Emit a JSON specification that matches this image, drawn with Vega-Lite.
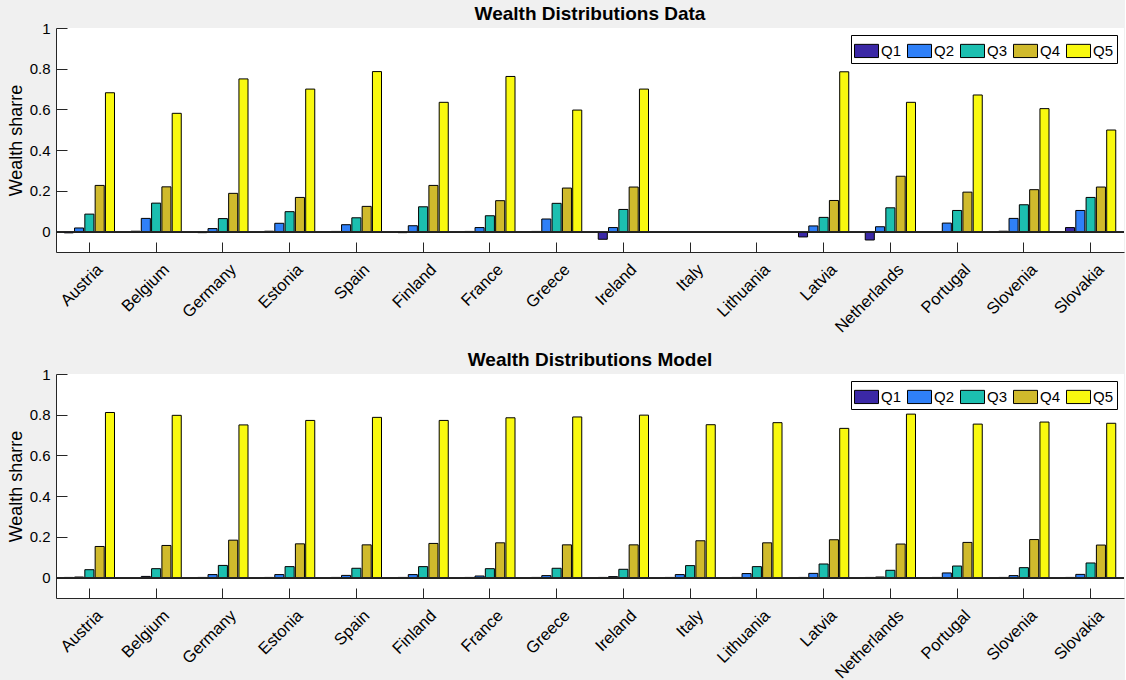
{
  "$schema": "https://vega.github.io/schema/vega-lite/v6.json",
  "background": "#f0f0f0",
  "padding": {"left": 7, "top": 5, "right": 0, "bottom": 0},
  "spacing": 15,
  "config": {
    "font": "Liberation Sans",
    "view": {"fill": "white", "stroke": null},
    "axis": {"domainColor": "#262626", "tickColor": "#262626", "labelColor": "#000000", "labelFontSize": 15, "titleFontSize": 18, "titleFontWeight": "normal", "titleColor": "#000000", "grid": false},
    "title": {"fontSize": 19, "fontWeight": "bold", "color": "#000000", "offset": -3},
    "legend": {"orient": "top-right", "direction": "horizontal", "title": null, "symbolType": "M-1,-0.55H1V0.55H-1Z", "symbolSize": 576, "symbolStrokeColor": "#000000", "symbolStrokeWidth": 1, "symbolOpacity": 1, "labelFontSize": 15, "labelColor": "#000000", "labelOffset": 2, "columnPadding": 3, "padding": 3, "strokeColor": "#000000", "fillColor": "#ffffff", "offset": 7}
  },
  "datasets": {
    "data": [
      {"country": "Austria", "q": "Q1", "share": -0.006}, {"country": "Austria", "q": "Q2", "share": 0.018}, {"country": "Austria", "q": "Q3", "share": 0.086}, {"country": "Austria", "q": "Q4", "share": 0.227}, {"country": "Austria", "q": "Q5", "share": 0.682},
      {"country": "Belgium", "q": "Q1", "share": 0.002}, {"country": "Belgium", "q": "Q2", "share": 0.065}, {"country": "Belgium", "q": "Q3", "share": 0.14}, {"country": "Belgium", "q": "Q4", "share": 0.22}, {"country": "Belgium", "q": "Q5", "share": 0.581},
      {"country": "Germany", "q": "Q1", "share": -0.005}, {"country": "Germany", "q": "Q2", "share": 0.015}, {"country": "Germany", "q": "Q3", "share": 0.064}, {"country": "Germany", "q": "Q4", "share": 0.188}, {"country": "Germany", "q": "Q5", "share": 0.75},
      {"country": "Estonia", "q": "Q1", "share": 0.002}, {"country": "Estonia", "q": "Q2", "share": 0.041}, {"country": "Estonia", "q": "Q3", "share": 0.098}, {"country": "Estonia", "q": "Q4", "share": 0.168}, {"country": "Estonia", "q": "Q5", "share": 0.7},
      {"country": "Spain", "q": "Q1", "share": 0.001}, {"country": "Spain", "q": "Q2", "share": 0.034}, {"country": "Spain", "q": "Q3", "share": 0.068}, {"country": "Spain", "q": "Q4", "share": 0.124}, {"country": "Spain", "q": "Q5", "share": 0.786},
      {"country": "Finland", "q": "Q1", "share": -0.005}, {"country": "Finland", "q": "Q2", "share": 0.029}, {"country": "Finland", "q": "Q3", "share": 0.122}, {"country": "Finland", "q": "Q4", "share": 0.227}, {"country": "Finland", "q": "Q5", "share": 0.635},
      {"country": "France", "q": "Q1", "share": 0.001}, {"country": "France", "q": "Q2", "share": 0.02}, {"country": "France", "q": "Q3", "share": 0.078}, {"country": "France", "q": "Q4", "share": 0.152}, {"country": "France", "q": "Q5", "share": 0.762},
      {"country": "Greece", "q": "Q1", "share": 0.001}, {"country": "Greece", "q": "Q2", "share": 0.062}, {"country": "Greece", "q": "Q3", "share": 0.139}, {"country": "Greece", "q": "Q4", "share": 0.214}, {"country": "Greece", "q": "Q5", "share": 0.597},
      {"country": "Ireland", "q": "Q1", "share": -0.0375}, {"country": "Ireland", "q": "Q2", "share": 0.02}, {"country": "Ireland", "q": "Q3", "share": 0.109}, {"country": "Ireland", "q": "Q4", "share": 0.219}, {"country": "Ireland", "q": "Q5", "share": 0.7},
      {"country": "Latvia", "q": "Q1", "share": -0.026}, {"country": "Latvia", "q": "Q2", "share": 0.028}, {"country": "Latvia", "q": "Q3", "share": 0.07}, {"country": "Latvia", "q": "Q4", "share": 0.153}, {"country": "Latvia", "q": "Q5", "share": 0.785},
      {"country": "Netherlands", "q": "Q1", "share": -0.041}, {"country": "Netherlands", "q": "Q2", "share": 0.024}, {"country": "Netherlands", "q": "Q3", "share": 0.117}, {"country": "Netherlands", "q": "Q4", "share": 0.272}, {"country": "Netherlands", "q": "Q5", "share": 0.635},
      {"country": "Portugal", "q": "Q1", "share": -0.003}, {"country": "Portugal", "q": "Q2", "share": 0.042}, {"country": "Portugal", "q": "Q3", "share": 0.104}, {"country": "Portugal", "q": "Q4", "share": 0.194}, {"country": "Portugal", "q": "Q5", "share": 0.671},
      {"country": "Slovenia", "q": "Q1", "share": 0.002}, {"country": "Slovenia", "q": "Q2", "share": 0.065}, {"country": "Slovenia", "q": "Q3", "share": 0.132}, {"country": "Slovenia", "q": "Q4", "share": 0.206}, {"country": "Slovenia", "q": "Q5", "share": 0.604},
      {"country": "Slovakia", "q": "Q1", "share": 0.02}, {"country": "Slovakia", "q": "Q2", "share": 0.104}, {"country": "Slovakia", "q": "Q3", "share": 0.168}, {"country": "Slovakia", "q": "Q4", "share": 0.219}, {"country": "Slovakia", "q": "Q5", "share": 0.499}
    ],
    "model": [
      {"country": "Austria", "q": "Q1", "share": 0.001}, {"country": "Austria", "q": "Q2", "share": 0.003}, {"country": "Austria", "q": "Q3", "share": 0.039}, {"country": "Austria", "q": "Q4", "share": 0.153}, {"country": "Austria", "q": "Q5", "share": 0.811},
      {"country": "Belgium", "q": "Q1", "share": 0.0005}, {"country": "Belgium", "q": "Q2", "share": 0.006}, {"country": "Belgium", "q": "Q3", "share": 0.044}, {"country": "Belgium", "q": "Q4", "share": 0.158}, {"country": "Belgium", "q": "Q5", "share": 0.797},
      {"country": "Germany", "q": "Q1", "share": 0.001}, {"country": "Germany", "q": "Q2", "share": 0.015}, {"country": "Germany", "q": "Q3", "share": 0.06}, {"country": "Germany", "q": "Q4", "share": 0.184}, {"country": "Germany", "q": "Q5", "share": 0.75},
      {"country": "Estonia", "q": "Q1", "share": 0.001}, {"country": "Estonia", "q": "Q2", "share": 0.015}, {"country": "Estonia", "q": "Q3", "share": 0.054}, {"country": "Estonia", "q": "Q4", "share": 0.166}, {"country": "Estonia", "q": "Q5", "share": 0.772},
      {"country": "Spain", "q": "Q1", "share": 0.001}, {"country": "Spain", "q": "Q2", "share": 0.011}, {"country": "Spain", "q": "Q3", "share": 0.046}, {"country": "Spain", "q": "Q4", "share": 0.161}, {"country": "Spain", "q": "Q5", "share": 0.787},
      {"country": "Finland", "q": "Q1", "share": 0.001}, {"country": "Finland", "q": "Q2", "share": 0.015}, {"country": "Finland", "q": "Q3", "share": 0.054}, {"country": "Finland", "q": "Q4", "share": 0.168}, {"country": "Finland", "q": "Q5", "share": 0.772},
      {"country": "France", "q": "Q1", "share": 0.001}, {"country": "France", "q": "Q2", "share": 0.008}, {"country": "France", "q": "Q3", "share": 0.044}, {"country": "France", "q": "Q4", "share": 0.171}, {"country": "France", "q": "Q5", "share": 0.785},
      {"country": "Greece", "q": "Q1", "share": 0.001}, {"country": "Greece", "q": "Q2", "share": 0.01}, {"country": "Greece", "q": "Q3", "share": 0.046}, {"country": "Greece", "q": "Q4", "share": 0.161}, {"country": "Greece", "q": "Q5", "share": 0.789},
      {"country": "Ireland", "q": "Q1", "share": 0.001}, {"country": "Ireland", "q": "Q2", "share": 0.005}, {"country": "Ireland", "q": "Q3", "share": 0.041}, {"country": "Ireland", "q": "Q4", "share": 0.161}, {"country": "Ireland", "q": "Q5", "share": 0.798},
      {"country": "Italy", "q": "Q1", "share": 0.001}, {"country": "Italy", "q": "Q2", "share": 0.015}, {"country": "Italy", "q": "Q3", "share": 0.059}, {"country": "Italy", "q": "Q4", "share": 0.181}, {"country": "Italy", "q": "Q5", "share": 0.751},
      {"country": "Lithuania", "q": "Q1", "share": 0.001}, {"country": "Lithuania", "q": "Q2", "share": 0.02}, {"country": "Lithuania", "q": "Q3", "share": 0.054}, {"country": "Lithuania", "q": "Q4", "share": 0.171}, {"country": "Lithuania", "q": "Q5", "share": 0.761},
      {"country": "Latvia", "q": "Q1", "share": 0.001}, {"country": "Latvia", "q": "Q2", "share": 0.021}, {"country": "Latvia", "q": "Q3", "share": 0.067}, {"country": "Latvia", "q": "Q4", "share": 0.186}, {"country": "Latvia", "q": "Q5", "share": 0.733},
      {"country": "Netherlands", "q": "Q1", "share": 0.001}, {"country": "Netherlands", "q": "Q2", "share": 0.003}, {"country": "Netherlands", "q": "Q3", "share": 0.036}, {"country": "Netherlands", "q": "Q4", "share": 0.165}, {"country": "Netherlands", "q": "Q5", "share": 0.803},
      {"country": "Portugal", "q": "Q1", "share": 0.001}, {"country": "Portugal", "q": "Q2", "share": 0.023}, {"country": "Portugal", "q": "Q3", "share": 0.057}, {"country": "Portugal", "q": "Q4", "share": 0.173}, {"country": "Portugal", "q": "Q5", "share": 0.754},
      {"country": "Slovenia", "q": "Q1", "share": 0.001}, {"country": "Slovenia", "q": "Q2", "share": 0.01}, {"country": "Slovenia", "q": "Q3", "share": 0.049}, {"country": "Slovenia", "q": "Q4", "share": 0.187}, {"country": "Slovenia", "q": "Q5", "share": 0.764},
      {"country": "Slovakia", "q": "Q1", "share": 0.001}, {"country": "Slovakia", "q": "Q2", "share": 0.016}, {"country": "Slovakia", "q": "Q3", "share": 0.072}, {"country": "Slovakia", "q": "Q4", "share": 0.16}, {"country": "Slovakia", "q": "Q5", "share": 0.758}
    ]
  },
  "vconcat": [
    {
      "title": "Wealth Distributions Data",
      "width": 1068,
      "height": 224,
      "data": {"name": "data"},
      "layer": [
        {
          "mark": {"type": "bar", "stroke": "#000000", "strokeWidth": 1},
          "encoding": {
            "x": {"field": "country", "type": "nominal", "scale": {"domain": ["Austria", "Belgium", "Germany", "Estonia", "Spain", "Finland", "France", "Greece", "Ireland", "Italy", "Lithuania", "Latvia", "Netherlands", "Portugal", "Slovenia", "Slovakia"], "paddingInner": 0, "paddingOuter": 0}, "axis": {"title": null, "labelAngle": -45, "labelFontSize": 16.5, "tickSize": -10, "labelPadding": 19, "labelOffset": 5}},
            "xOffset": {"field": "q", "type": "nominal", "scale": {"paddingInner": 0.12, "paddingOuter": 0.8}},
            "y": {"field": "share", "type": "quantitative", "scale": {"domain": [-0.1, 1], "nice": false}, "axis": {"title": "Wealth sharre", "values": [0, 0.2, 0.4, 0.6, 0.8, 1], "format": "~g", "tickSize": -11, "labelPadding": 17}},
            "color": {"field": "q", "type": "nominal", "scale": {"domain": ["Q1", "Q2", "Q3", "Q4", "Q5"], "range": ["#3b28a6", "#2f80f8", "#1cbfb0", "#d0ba2c", "#f9f90f"]}}
          }
        },
        {"mark": {"type": "rule", "color": "#262626"}, "encoding": {"y": {"datum": 0}}}
      ]
    },
    {
      "title": "Wealth Distributions Model",
      "width": 1068,
      "height": 224,
      "data": {"name": "model"},
      "layer": [
        {
          "mark": {"type": "bar", "stroke": "#000000", "strokeWidth": 1},
          "encoding": {
            "x": {"field": "country", "type": "nominal", "scale": {"domain": ["Austria", "Belgium", "Germany", "Estonia", "Spain", "Finland", "France", "Greece", "Ireland", "Italy", "Lithuania", "Latvia", "Netherlands", "Portugal", "Slovenia", "Slovakia"], "paddingInner": 0, "paddingOuter": 0}, "axis": {"title": null, "labelAngle": -45, "labelFontSize": 16.5, "tickSize": -10, "labelPadding": 19, "labelOffset": 5}},
            "xOffset": {"field": "q", "type": "nominal", "scale": {"paddingInner": 0.12, "paddingOuter": 0.8}},
            "y": {"field": "share", "type": "quantitative", "scale": {"domain": [-0.1, 1], "nice": false}, "axis": {"title": "Wealth sharre", "values": [0, 0.2, 0.4, 0.6, 0.8, 1], "format": "~g", "tickSize": -11, "labelPadding": 17}},
            "color": {"field": "q", "type": "nominal", "scale": {"domain": ["Q1", "Q2", "Q3", "Q4", "Q5"], "range": ["#3b28a6", "#2f80f8", "#1cbfb0", "#d0ba2c", "#f9f90f"]}}
          }
        },
        {"mark": {"type": "rule", "color": "#262626"}, "encoding": {"y": {"datum": 0}}}
      ]
    }
  ],
  "resolve": {"legend": {"color": "independent"}, "scale": {"color": "independent"}}
}
